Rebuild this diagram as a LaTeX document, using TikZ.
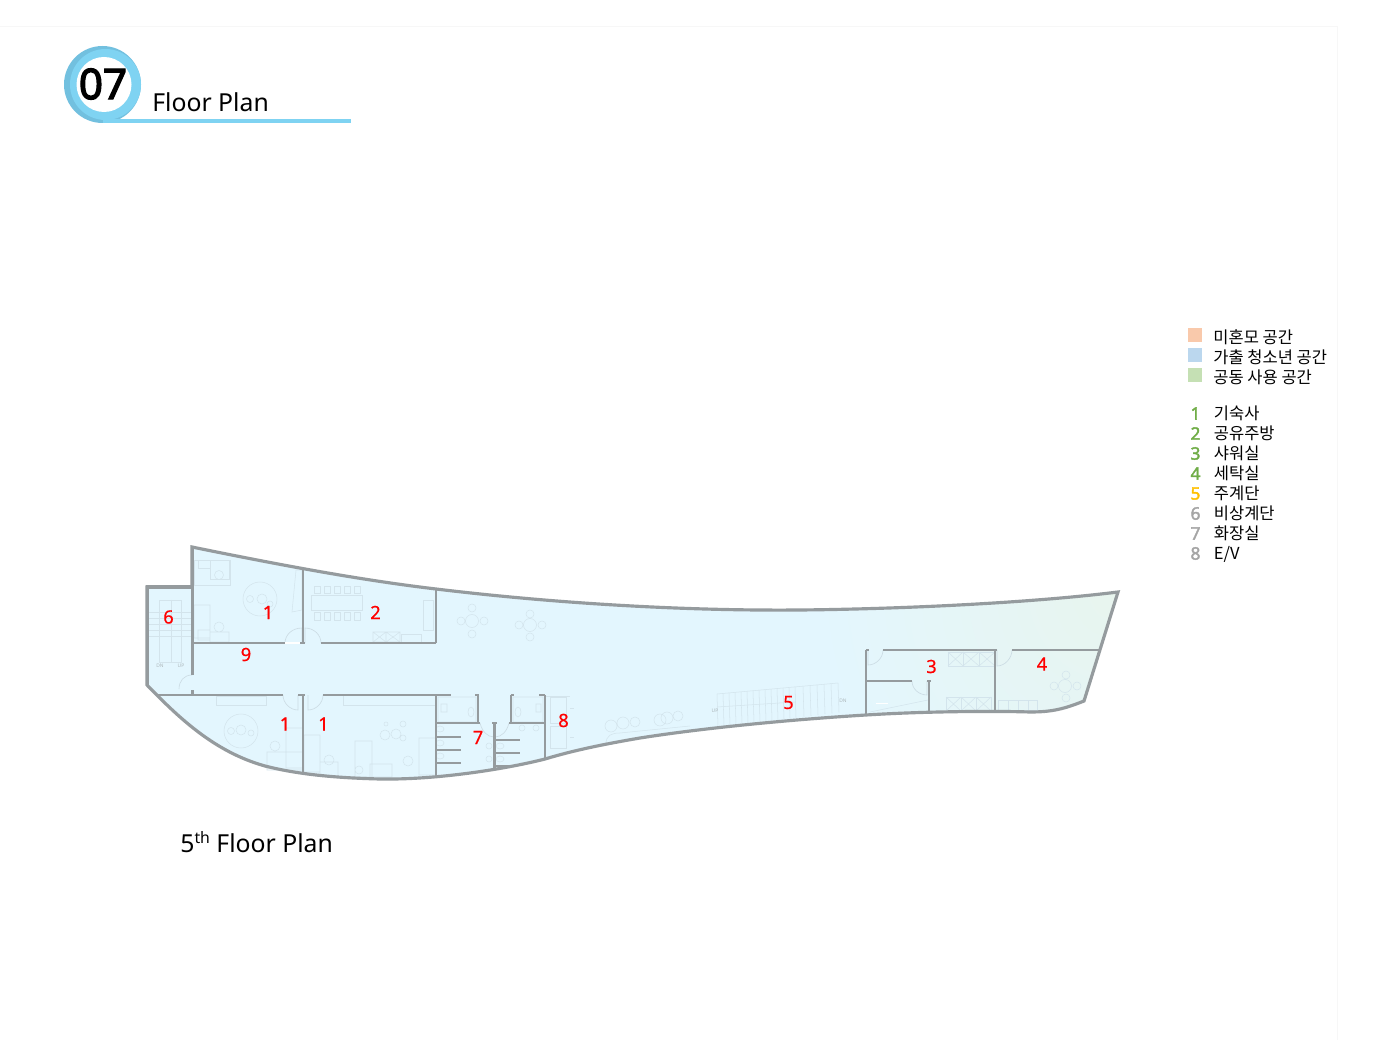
\documentclass[tikz,border=0pt]{standalone}
\usepackage{fontspec}
\setmainfont{Noto Sans}
\newfontfamily\krfont{Noto Sans CJK KR}
\newfontfamily\numfont[FakeBold=3]{Noto Sans}
\newfontfamily\redfont[FakeBold=0.6]{Noto Sans}
\newfontfamily\legfont[FakeBold=2.2]{Noto Sans}
\usetikzlibrary{positioning}
\definecolor{wallc}{HTML}{959B9E}
\definecolor{furnc}{HTML}{D3E4EC}
\definecolor{doorc}{HTML}{CBDBE3}
\definecolor{skyc}{HTML}{E3F6FE}
\definecolor{mintc}{HTML}{E8F5EE}
\definecolor{ringc}{HTML}{7FD3F2}
\definecolor{ringd}{HTML}{72C0DF}
\definecolor{legpeach}{HTML}{F9C9AB}
\definecolor{legblue}{HTML}{BBD7EE}
\definecolor{leggreen}{HTML}{C5E0B4}
\definecolor{nogreen}{HTML}{70AD47}
\definecolor{noyellow}{HTML}{FFC000}
\definecolor{nogray}{HTML}{A5A5A5}
\tikzset{
    wall/.style = {wallc, line width=1.25pt},
    wallthick/.style = {wallc, line width=1.9pt},
    wallout/.style = {wallc, line width=1.8pt, line join=miter},
    stallw/.style = {wallc, line width=0.8pt},
    furn/.style = {furnc, line width=0.3pt},
    doorarc/.style = {doorc, line width=0.35pt},
    roomno/.style = {red, font=\redfont\fontsize{10.4}{10}\selectfont, inner sep=0},
    headtxt/.style = {black, font=\fontsize{14.1}{14}\selectfont, inner sep=0, anchor=base west},
    legbox/.style = {minimum size=8pt, inner sep=0},
    legtxt/.style = {black, font=\krfont\fontsize{9.4}{9}\selectfont, inner sep=0, anchor=base west},
    legno/.style = {font=\legfont\fontsize{9.8}{10}\selectfont, inner sep=0},
    tinytxt/.style = {furnc!55!gray, font=\fontsize{2.8}{3}\selectfont, inner sep=0}
}
\newcommand{\planline}{(192,547) .. controls (280,565) and (360,580) .. (436,589) .. controls (560,604) and (690,611) .. (800,610) .. controls (900,609) and (1030,603) .. (1118,592) -- (1084,701) .. controls (1064,709) and (1052,712) .. (1030,712) .. controls (1000,711) and (930,711) .. (866,715) .. controls (800,719) and (710,727) .. (640,738) .. controls (605,744) and (575,750) .. (545,759) .. controls (510,768) and (440,780) .. (380,779) .. controls (340,778) and (300,775) .. (265,766) .. controls (215,752) and (180,719) .. (147,685) -- (147,587) -- (192,587) -- cycle}
\begin{document}
\begin{tikzpicture}[x=0.02cm,y=-0.02cm]
\useasboundingbox (0,0) rectangle (1400,1050);
\fill[white] (0,0) rectangle (1400,1050);
\draw[black!3, line width=0.3pt] (0,26) -- (1337,26) -- (1337,1040);

% header
\fill[ringd] (102.5,84.5) circle (38.5);
\fill[ringc] (105.5,84.5) circle (35.5);
\fill[ringc] (103,119.5) rectangle (351,123);
\fill[white] (104,84.5) circle (27.5);
\node[inner sep=0, font=\numfont\fontsize{24}{24}\selectfont] at (103,84) (numhead) {07};
\node[headtxt] at (152,112) (title) {Floor Plan};

% floor
\fill[skyc] \planline;
\begin{scope}
\clip \planline;
\shade[inner color=mintc, outer color=skyc] (1118,592) circle (300);
\end{scope}

% stairs 6
\draw[furn] (159,600) rectangle (181,662) (171,600) -- (171,662);
\foreach \sy in {612,618,624,630,636} \draw[furn] (149,\sy) -- (191,\sy);
\node[tinytxt] at (160,666) (dnlab) {DN};
\node[tinytxt] at (181,666) (uplab) {UP};

% rooms 1 top
\draw[furn] (198,560) rectangle (210,568) (194,560) rectangle (230,585) (210,560) rectangle (229,579);
\draw[furn] (219,575) circle (4.5) (260,599) circle (17) (250,599) circle (3.5) (262,599) circle (5) (270,604) circle (3);
\draw[furn] (194,605) rectangle (210,638) (210,632) rectangle (229,642) (198,630) rectangle (210,640) (219,627) circle (5);
\draw[furn] (292,612) -- (296,570) -- (302,570) -- (302,610) -- cycle;

% room 2
\draw[furn] (311,595) rectangle (362,610);
\draw[furn] (314,586) rectangle (320,593) (324,586) rectangle (330,593) (334,586) rectangle (340,593) (344,586) rectangle (350,593) (354,586) rectangle (360,593);
\draw[furn] (314,612) rectangle (320,620) (324,612) rectangle (330,620) (334,612) rectangle (340,620) (344,612) rectangle (350,620) (354,612) rectangle (360,620);
\draw[furn] (373,632) rectangle (400,642) (386,632) -- (386,642) (373,632) -- (386,642) (373,642) -- (386,632) (386,632) -- (400,642) (386,642) -- (400,632);
\draw[furn] (401,634) rectangle (421,642) (423,600) rectangle (433,630);

% open tables
\draw[furn] (472,621) circle (6.5) (472,608) circle (4) (472,634) circle (4) (461,621) circle (4) (484,621) circle (4);
\draw[furn] (530,625) circle (6.5) (530,614) circle (4) (530,637) circle (4) (519,625) circle (4) (542,625) circle (4);
\draw[furn] (1065,686) circle (6.5) (1066,675) circle (4) (1066,698) circle (4) (1054,686) circle (4) (1077,686) circle (4);

% rooms 1 bottom
\draw[furn] (216,696) rectangle (266,705) (343,696) -- (343,705) -- (436,705) -- (436,696);
\draw[furn] (241,731) circle (17) (231,731) circle (3.5) (241,730) circle (5) (251,733) circle (3);
\draw[furn] (267,752) rectangle (303,770) (286,728) rectangle (303,768) (275,746) circle (5);
\draw[furn] (304,735) rectangle (320,772) (320,762) rectangle (338,776) (329,760) circle (5);
\draw[furn] (385,735) circle (5) (396,734) circle (5) (403,724) circle (3) (403,738) circle (3) (386,724) circle (2);
\draw[furn] (355,741) rectangle (372,777) (419,738) rectangle (436,775) (370,764) rectangle (392,777) (408,761) circle (5) (359,770) circle (4);

% toilets
\draw[furn] (438,697) rectangle (476,722) (441,704) rectangle (447,712) (471,712) ellipse (3 and 5);
\draw[furn] (513,697) rectangle (543,722) (536,704) rectangle (541,712) (518,712) ellipse (3 and 5);
\draw[furn] (440,729) ellipse (4 and 3) (440,743) ellipse (4 and 3) (440,756) ellipse (4 and 3);
\draw[furn] (500,746) ellipse (4 and 3) (500,759) ellipse (4 and 3) (489,746) circle (3) (489,759) circle (3);
\draw[furn] (522,728) circle (3) (536,728) circle (3);
\draw[furn] (550,697) rectangle (566,723) (550,726) rectangle (566,748) (546,696) -- (570,696) (570,708) -- (574,708) (570,737) -- (574,737);

% lounge by stairs 5
\draw[furn] (611,726) circle (6) (623,723) circle (6) (635,722) circle (5) (660,720) circle (6) (667,718) circle (6) (678,716) circle (5);
\draw[furn] (606,744) .. controls (606,735) and (612,733) .. (620,733) -- (690,726);

% stairs 5
\draw[furn] (717,694) -- (838,683) (717,707) -- (795,702);
\foreach \sx in {717,723,729,735,741,747,753,759,765,771,777,783,789,795,803,810,817,824,831,838}
    \draw[furn] (\sx,{694-0.09*(\sx-717)}) -- (\sx+1,{727-0.12*(\sx-717)});
\node[tinytxt] at (715,711) (uplow) {UP};
\node[tinytxt] at (843,700.5) (dnhigh) {DN};

% rooms 3 and 4
\draw[furn] (948,652) rectangle (995,666) (963,652) -- (963,666) (979,652) -- (979,666);
\draw[furn] (948,652) -- (963,666) (948,666) -- (963,652) (963,652) -- (979,666) (963,666) -- (979,652) (979,652) -- (995,666) (979,666) -- (995,652);
\draw[furn] (946,697) rectangle (991,711) (961,697) -- (961,711) (976,697) -- (976,711);
\draw[furn] (946,697) -- (961,711) (946,711) -- (961,697) (961,697) -- (976,711) (961,711) -- (976,697) (976,697) -- (991,711) (976,711) -- (991,697);
\draw[furn] (998,700) rectangle (1008,710) (1008,700) rectangle (1018,710) (1018,700) rectangle (1028,710) (1028,700) rectangle (1037,710);
\draw[furn] (870,712) -- (928,700);

% doors
\draw[doorarc] (285,643) .. controls (285,635) and (292,628) .. (302,628) -- (302,643);
\draw[doorarc] (305,643) -- (305,628) .. controls (314,628) and (321,635) .. (321,643);
\draw[doorarc] (283,695) .. controls (283,703) and (290,710) .. (298,710) -- (298,695);
\draw[doorarc] (308,695) -- (308,710) .. controls (316,710) and (323,703) .. (323,695);
\draw[doorarc] (179,689) .. controls (179,681) and (184,675) .. (192,675);
\draw[doorarc] (868,650) -- (868,665) .. controls (876,665) and (883,658) .. (883,650);
\draw[doorarc] (912,681) .. controls (912,689) and (919,695) .. (927,695) -- (927,681);
\draw[doorarc] (997,650) -- (997,666) .. controls (1005,666) and (1012,658) .. (1012,650);
\draw[doorarc] (480,723) .. controls (482,731) and (487,737) .. (494,737);
\draw[doorarc] (509,723) .. controls (507,731) and (502,737) .. (495,737);

% walls
\draw[wall] (192,643) -- (285,643);
\draw[white, line width=1.25pt] (285,643) -- (300,643);
\draw[wall] (300,643) -- (305,643) (321,643) -- (436,643) (303,569) -- (303,643) (436,589) -- (436,643);
\draw[wall] (158,695) -- (283,695) (298,695) -- (305,695) (323,695) -- (451,695) (303,695) -- (303,773) (436,695) -- (436,777);
\draw[wall] (436,723) -- (480,723) (478,695) -- (478,723) (475,695) -- (479,695);
\draw[wall] (509,723) -- (545,723) (511,695) -- (511,723) (511,695) -- (514,695) (539,695) -- (545,695) (545,695) -- (545,758);
\draw[wall] (494.5,723) -- (494.5,768) (492,723) -- (497,723);
\draw[stallw] (436,737) -- (461,737) (436,750) -- (461,750) (436,763) -- (461,763);
\draw[stallw] (495,740) -- (520,740) (495,753) -- (520,753) (495,766) -- (515,766);
\draw[wall] (866,650) -- (866,715) (866,650) -- (869,650) (883,650) -- (997,650) (995,650) -- (995,711) (1012,650) -- (1099,650);
\draw[wall] (866,681) -- (912,681) (929,681) -- (929,712) (927,681) -- (931,681);
\draw[white, line width=0.9pt] (876,703.5) -- (888,703.5);
\draw[wallthick] (192.5,547) -- (192.5,675) (192.5,690) -- (192.5,695);
\draw[wallout] \planline;
\draw[wallthick] (147.5,685) -- (147.5,587) -- (192,587);

% room labels
\node[roomno] at (268,612.5) (r1a) {1};
\node[roomno] at (375.5,612.5) (r2) {2};
\node[roomno] at (168.5,617) (r6) {6};
\node[roomno] at (246,654.5) (r9) {9};
\node[roomno] at (285,724) (r1b) {1};
\node[roomno] at (323.5,724) (r1c) {1};
\node[roomno] at (478,737.5) (r7) {7};
\node[roomno] at (563.5,720.5) (r8) {8};
\node[roomno] at (788.5,702.5) (r5) {5};
\node[roomno] at (931.5,666.5) (r3) {3};
\node[roomno] at (1042,664) (r4) {4};

\node[headtxt] at (180,852) (sub) {5\raisebox{5pt}{\fontsize{9}{9}\selectfont th} Floor Plan};

% legend colours
\node[legbox, fill=legpeach] at (1195,335) (boxa) {};
\node[legbox, fill=legblue] at (1195,355) (boxb) {};
\node[legbox, fill=leggreen] at (1195,375) (boxc) {};
\node[legtxt] at (1213,343.5) (txta) {미혼모 공간};
\node[legtxt] at (1213,363.5) (txtb) {가출 청소년 공간};
\node[legtxt] at (1213,383.5) (txtc) {공동 사용 공간};

% legend numbers
\node[legno, text=nogreen] at (1195.5,413.5) (no1) {1};
\node[legno, text=nogreen] at (1195.5,433.5) (no2) {2};
\node[legno, text=nogreen] at (1195.5,453.5) (no3) {3};
\node[legno, text=nogreen] at (1195.5,473.5) (no4) {4};
\node[legno, text=noyellow] at (1195.5,493.5) (no5) {5};
\node[legno, text=nogray] at (1195.5,513.5) (no6) {6};
\node[legno, text=nogray] at (1195.5,533.5) (no7) {7};
\node[legno, text=nogray] at (1195.5,553.5) (no8) {8};
\node[legtxt] at (1213.5,419.5) (nm1) {기숙사};
\node[legtxt] at (1213.5,439.5) (nm2) {공유주방};
\node[legtxt] at (1213.5,459.5) (nm3) {샤워실};
\node[legtxt] at (1213.5,479.5) (nm4) {세탁실};
\node[legtxt] at (1213.5,499.5) (nm5) {주계단};
\node[legtxt] at (1213.5,519.5) (nm6) {비상계단};
\node[legtxt] at (1213.5,539.5) (nm7) {화장실};
\node[legtxt] at (1213.5,559.5) (nm8) {E/V};
\end{tikzpicture}
\end{document}
